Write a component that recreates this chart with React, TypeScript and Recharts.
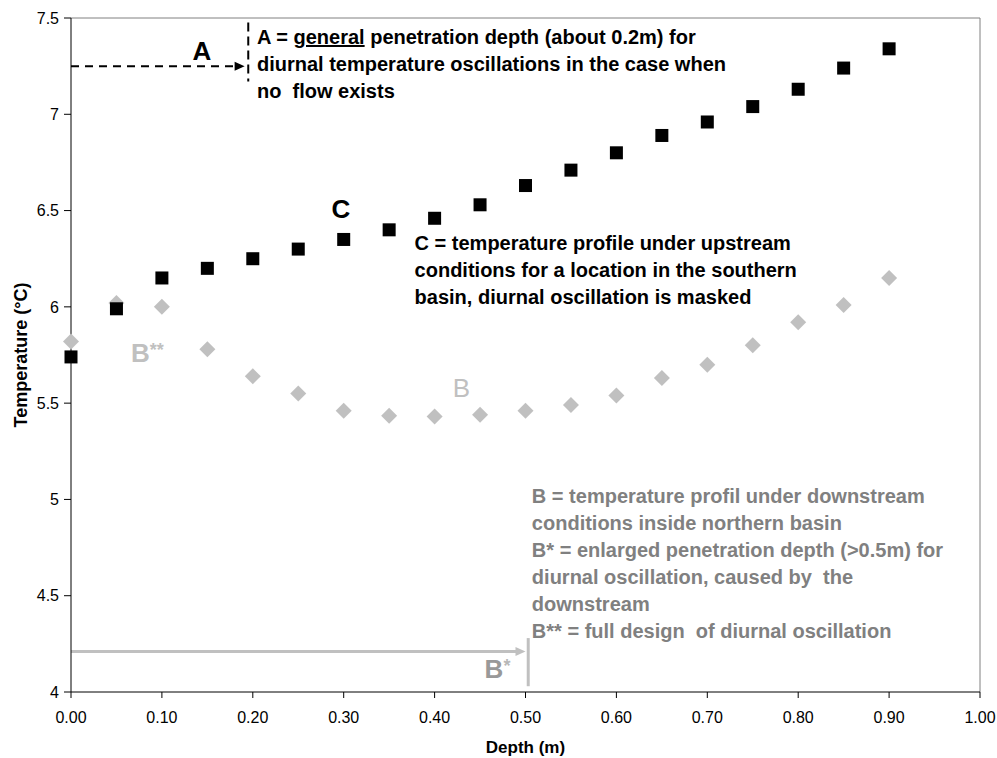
import { ScatterChart, Scatter, XAxis, YAxis, ReferenceLine, ReferenceDot } from "recharts";

const depths = [0, 0.05, 0.1, 0.15, 0.2, 0.25, 0.3, 0.35, 0.4, 0.45, 0.5, 0.55, 0.6, 0.65, 0.7, 0.75, 0.8, 0.85, 0.9];
const upstreamC = [5.74, 5.99, 6.15, 6.2, 6.25, 6.3, 6.35, 6.4, 6.46, 6.53, 6.63, 6.71, 6.8, 6.89, 6.96, 7.04, 7.13, 7.24, 7.34];
const downstreamB = [5.82, 6.02, 6.0, 5.78, 5.64, 5.55, 5.46, 5.435, 5.43, 5.44, 5.46, 5.49, 5.54, 5.63, 5.7, 5.8, 5.92, 6.01, 6.15];
const xTicks = [0, 0.1, 0.2, 0.3, 0.4, 0.5, 0.6, 0.7, 0.8, 0.9, 1];
const yTicks = [4, 4.5, 5, 5.5, 6, 6.5, 7, 7.5];

const seriesC = depths.map((d, i) => ({ depth: d, temp: upstreamC[i] }));
const seriesB = depths.map((d, i) => ({ depth: d, temp: downstreamB[i] }));

const FONT = "'Liberation Sans', Arial, sans-serif";
const LIGHT = "#c0c0c0";

const Square = (p: any) => <rect x={p.cx - 6.5} y={p.cy - 6.5} width={13} height={13} fill="#000" />;
const Diamond = (p: any) => (
  <polygon points={`${p.cx},${p.cy - 8} ${p.cx + 8},${p.cy} ${p.cx},${p.cy + 8} ${p.cx - 8},${p.cy}`} fill={LIGHT} />
);

// line with an arrowhead at (x2, y2)
const arrow = (color: string, width: number, dash?: string) => (p: any) => {
  const { x1, y1, x2, y2 } = p;
  return (
    <g>
      <line x1={x1} y1={y1} x2={x2 - 8} y2={y2} stroke={color} strokeWidth={width} strokeDasharray={dash} />
      <polygon points={`${x2},${y2} ${x2 - 10},${y2 - 4.5} ${x2 - 10},${y2 + 4.5}`} fill={color} />
    </g>
  );
};

const block = (lines: any[], color: string, size = 20) => (p: any) => (
  <text x={p.cx} y={p.cy} fill={color} fontSize={size} fontWeight="bold" fontFamily={FONT} style={{ whiteSpace: "pre" }}>
    {lines.map((l, i) => (
      <tspan key={i} x={p.cx} dy={i === 0 ? 0 : 27}>{l}</tspan>
    ))}
  </text>
);

const big = (content: any, color: string, weight = "bold", anchor = "start") => (p: any) => (
  <text x={p.cx} y={p.cy} fill={color} fontSize={26} fontWeight={weight} fontFamily={FONT} textAnchor={anchor}>
    {content}
  </text>
);

const textA = [
  <>A = <tspan textDecoration="underline">general</tspan> penetration depth (about 0.2m) for</>,
  "diurnal temperature oscillations in the case when",
  "no  flow exists",
];
const textC = [
  "C = temperature profile under upstream",
  "conditions for a location in the southern",
  "basin, diurnal oscillation is masked",
];
const textB = [
  "B = temperature profil under downstream",
  "conditions inside northern basin",
  "B* = enlarged penetration depth (>0.5m) for",
  "diurnal oscillation, caused by  the",
  "downstream",
  "B** = full design  of diurnal oscillation",
];

const tick = { fontSize: 16, fill: "#000", fontFamily: FONT };
const axisTitle = { fontSize: 17, fontWeight: "bold", fill: "#000", fontFamily: FONT };

export default function App() {
  return (
    <div style={{ position: "absolute", left: 0, top: 0, background: "#fff" }}>
      <ScatterChart width={997} height={758} margin={{ top: 18, right: 17, left: 0, bottom: 0 }}>
        <XAxis
          type="number"
          dataKey="depth"
          domain={[0, 1]}
          ticks={xTicks}
          tickFormatter={(v: number) => v.toFixed(2)}
          tick={tick}
          height={66}
          stroke="#000"
          tickSize={6}
          tickMargin={14}
          label={{ value: "Depth (m)", position: "center", dy: 22, style: axisTitle }}
        />
        <YAxis
          type="number"
          dataKey="temp"
          domain={[4, 7.5]}
          ticks={yTicks}
          tick={tick}
          width={71}
          stroke="#000"
          tickSize={7}
          tickMargin={5}
          label={{ value: "Temperature (°C)", angle: -90, position: "center", dx: -15, style: { ...axisTitle, fontSize: 18 } }}
        />
        <ReferenceLine y={7.5} stroke="#808080" />
        <ReferenceLine x={1} stroke="#808080" />

        <Scatter data={seriesB} shape={Diamond} isAnimationActive={false} />
        <Scatter data={seriesC} shape={Square} isAnimationActive={false} />

        <ReferenceLine segment={[{ x: 0, y: 7.25 }, { x: 0.191, y: 7.25 }]} shape={arrow("#000", 2, "8 6")} />
        <ReferenceLine segment={[{ x: 0.195, y: 7.476 }, { x: 0.195, y: 7.17 }]} stroke="#000" strokeWidth={2} strokeDasharray="9 5" />
        <ReferenceLine segment={[{ x: 0, y: 4.21 }, { x: 0.5, y: 4.21 }]} shape={arrow(LIGHT, 3)} />
        <ReferenceLine segment={[{ x: 0.503, y: 4.28 }, { x: 0.503, y: 4.03 }]} stroke={LIGHT} strokeWidth={3} />

        <ReferenceDot x={0.2046} y={7.365} shape={block(textA, "#000")} />
        <ReferenceDot x={0.378} y={6.295} shape={block(textC, "#000")} />
        <ReferenceDot x={0.507} y={4.982} shape={block(textB, "#808080")} />

        <ReferenceDot x={0.144} y={7.282} shape={big("A", "#000", "bold", "middle")} />
        <ReferenceDot x={0.297} y={6.462} shape={big("C", "#000", "bold", "middle")} />
        <ReferenceDot x={0.066} y={5.714} shape={big(<>B<tspan fontSize={18} dy={-6}>**</tspan></>, LIGHT)} />
        <ReferenceDot x={0.42} y={5.532} shape={big("B", LIGHT, "normal")} />
        <ReferenceDot x={0.455} y={4.073} shape={big(<>B<tspan fontSize={18} dy={-6} fill="#b8b8b8">*</tspan></>, "#999")} />
      </ScatterChart>
    </div>
  );
}
